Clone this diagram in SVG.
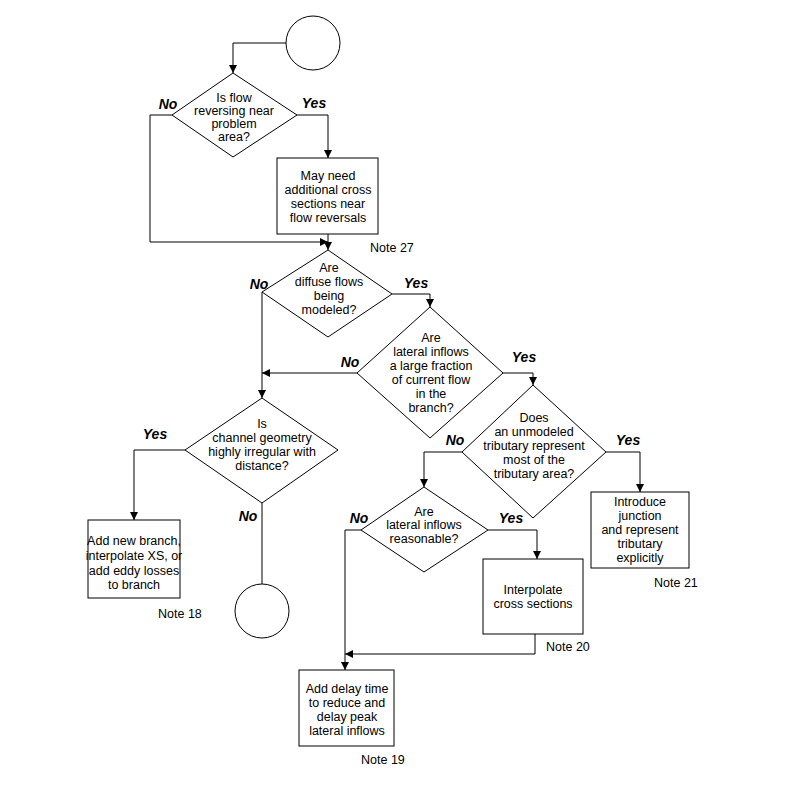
<svg xmlns="http://www.w3.org/2000/svg" width="791" height="791" viewBox="0 0 791 791">
<style>
.s{fill:#fff;stroke:#000;stroke-width:1}
.c{fill:none;stroke:#000;stroke-width:1}
text{font-family:"Liberation Sans",Arial,sans-serif;font-size:12.5px;text-anchor:middle;fill:#000}
.l{font-weight:bold;font-style:italic;font-size:14px}
.n{text-anchor:start}
</style>
<defs><marker id="a" viewBox="0 0 10 10" refX="10" refY="5" markerWidth="8" markerHeight="8" orient="auto" markerUnits="userSpaceOnUse"><path d="M0,0L10,5L0,10z"/></marker></defs>
<rect width="791" height="791" fill="#fff"/>
<g id="connectors">
<path class="c" d="M286,43H233V73" marker-end="url(#a)"/>
<path class="c" d="M297,115H328V158" marker-end="url(#a)"/>
<path class="c" d="M172,115H150V242H328" marker-end="url(#a)"/>
<path class="c" d="M328,234V250" marker-end="url(#a)"/>
<path class="c" d="M392,294H430V307" marker-end="url(#a)"/>
<path class="c" d="M262,292V398" marker-end="url(#a)"/>
<path class="c" d="M357,373H262" marker-end="url(#a)"/>
<path class="c" d="M503,373H533V385" marker-end="url(#a)"/>
<path class="c" d="M185,450H134V520" marker-end="url(#a)"/>
<path class="c" d="M262,503V584"/>
<path class="c" d="M606,452H640V492" marker-end="url(#a)"/>
<path class="c" d="M462,452H424V487" marker-end="url(#a)"/>
<path class="c" d="M488,530H537V559" marker-end="url(#a)"/>
<path class="c" d="M361,530H345V670" marker-end="url(#a)"/>
<path class="c" d="M535,634V654H345" marker-end="url(#a)"/>
</g>
<g id="start"><circle class="s" cx="313" cy="43" r="27"/></g>
<g id="d1"><path class="s" d="M233,73L297,115L233,157L172,115Z"/>
<text x="234" y="102">Is flow</text><text x="234" y="115">reversing near</text><text x="234" y="128">problem</text><text x="234" y="141">area?</text>
<text class="l" x="168" y="109">No</text><text class="l" x="314" y="108">Yes</text></g>
<g id="b1"><rect class="s" x="277" y="158" width="101" height="76"/>
<text x="328" y="180">May need</text><text x="328" y="194">additional cross</text><text x="328" y="208">sections near</text><text x="328" y="222">flow reversals</text>
<text class="n" x="370" y="252">Note 27</text></g>
<g id="d2"><path class="s" d="M328,250L392,294L328,337L262,292Z"/>
<text x="329" y="272">Are</text><text x="329" y="286">diffuse flows</text><text x="329" y="300">being</text><text x="329" y="314">modeled?</text>
<text class="l" x="259" y="289">No</text><text class="l" x="416" y="288">Yes</text></g>
<g id="d3"><path class="s" d="M430,307L503,373L430,438L357,373Z"/>
<text x="431" y="342">Are</text><text x="431" y="356">lateral inflows</text><text x="431" y="370">a large fraction</text><text x="431" y="384">of current flow</text><text x="431" y="398">in the</text><text x="431" y="412">branch?</text>
<text class="l" x="350" y="367">No</text><text class="l" x="524" y="362">Yes</text></g>
<g id="d4"><path class="s" d="M262,398L338,450L262,503L185,450Z"/>
<text x="262" y="428">Is</text><text x="262" y="442">channel geometry</text><text x="262" y="456">highly irregular with</text><text x="262" y="470">distance?</text>
<text class="l" x="155" y="439">Yes</text><text class="l" x="248" y="521">No</text></g>
<g id="b2"><rect class="s" x="88" y="520" width="92" height="78"/>
<text x="134" y="545">Add new branch,</text><text x="134" y="560">interpolate XS, or</text><text x="134" y="575">add eddy losses</text><text x="134" y="589">to branch</text>
<text class="n" x="158" y="618">Note 18</text></g>
<g id="end"><circle class="s" cx="262" cy="611" r="27"/></g>
<g id="d5"><path class="s" d="M533,385L606,452L533,518L462,452Z"/>
<text x="534" y="422">Does</text><text x="534" y="436">an unmodeled</text><text x="534" y="450">tributary represent</text><text x="534" y="464">most of the</text><text x="534" y="478">tributary area?</text>
<text class="l" x="455" y="445">No</text><text class="l" x="628" y="445">Yes</text></g>
<g id="b3"><rect class="s" x="591" y="492" width="98" height="76"/>
<text x="640" y="506">Introduce</text><text x="640" y="520">junction</text><text x="640" y="534">and represent</text><text x="640" y="548">tributary</text><text x="640" y="562">explicitly</text>
<text class="n" x="654" y="587">Note 21</text></g>
<g id="d6"><path class="s" d="M424,487L488,530L424,572L361,530Z"/>
<text x="424" y="516">Are</text><text x="424" y="529">lateral inflows</text><text x="424" y="543">reasonable?</text>
<text class="l" x="359" y="523">No</text><text class="l" x="511" y="523">Yes</text></g>
<g id="b4"><rect class="s" x="483" y="559" width="100" height="75"/>
<text x="533" y="594">Interpolate</text><text x="533" y="608">cross sections</text>
<text class="n" x="546" y="651">Note 20</text></g>
<g id="b5"><rect class="s" x="299" y="670" width="95" height="76"/>
<text x="347" y="693">Add delay time</text><text x="347" y="707">to reduce and</text><text x="347" y="721">delay peak</text><text x="347" y="735">lateral inflows</text>
<text class="n" x="361" y="764">Note 19</text></g>
</svg>
